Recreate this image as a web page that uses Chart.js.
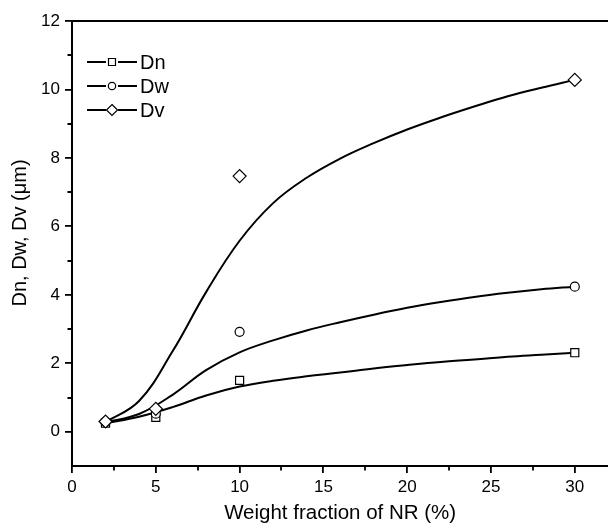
<!DOCTYPE html>
<html>
<head>
<meta charset="utf-8">
<script src="https://cdn.jsdelivr.net/npm/chart.js@4/dist/chart.umd.min.js"></script>
<style>
  html, body { margin: 0; padding: 0; background: #fff; overflow: hidden; width: 608px; height: 528px; }
  canvas { display: block; }
</style>
</head>
<body>
<canvas id="c" width="616" height="528" style="width:616px;height:528px"></canvas>
<script>
// Particle diameters versus NR weight fraction
const seriesNames = ['Dn', 'Dw', 'Dv'];
const nrFraction = [2, 5, 10, 30];
const dnMeasured = [0.25, 0.42, 1.50, 2.31];
const dwMeasured = [0.28, 0.53, 2.92, 4.24];
const dvMeasured = [0.30, 0.67, 7.47, 10.28];

// Fitted trend curves, sampled every 2 %
const fitX  = [2, 4, 6, 8, 10, 12, 14, 16, 18, 20, 22, 24, 26, 28, 30];
const dnFit = [0.25, 0.44, 0.72, 1.06, 1.32, 1.49, 1.62, 1.73, 1.85, 1.95, 2.04, 2.11, 2.19, 2.25, 2.31];
const dwFit = [0.28, 0.52, 1.08, 1.80, 2.32, 2.67, 2.96, 3.20, 3.42, 3.62, 3.79, 3.94, 4.06, 4.16, 4.24];
const dvFit = [0.28, 0.90, 2.35, 4.08, 5.58, 6.68, 7.42, 7.98, 8.43, 8.83, 9.18, 9.50, 9.80, 10.05, 10.28];

const xTicks = [0, 5, 10, 15, 20, 25, 30];
const xMinorTicks = [2.5, 7.5, 12.5, 17.5, 22.5, 27.5];
const yTicks = [0, 2, 4, 6, 8, 10, 12];
const yMinorTicks = [1, 3, 5, 7, 9, 11];

const xTitle = 'Weight fraction of NR (%)';
const yTitle = 'Dn, Dw, Dv (\u03bcm)';

const FONT = '"Liberation Sans", Arial, Helvetica, sans-serif';
const measured = [dnMeasured, dwMeasured, dvMeasured];
const fits = [dnFit, dwFit, dvFit];
const styles = ['rect', 'circle', 'rectRot'];
const radii = [5.7, 4.5, 6.5];

const datasets = [];
seriesNames.forEach((name, i) => {
  datasets.push({
    label: name + ' fit',
    data: fitX.map((x, k) => ({ x: x, y: fits[i][k] })),
    borderColor: '#000',
    borderWidth: 2,
    pointRadius: 0,
    fill: false,
    tension: 0.4,
    order: 10
  });
  datasets.push({
    label: name,
    data: nrFraction.map((x, k) => ({ x: x, y: measured[i][k] })),
    showLine: false,
    pointStyle: styles[i],
    pointRadius: radii[i],
    pointBorderWidth: 1.2,
    pointBorderColor: '#000',
    pointBackgroundColor: '#fff',
    order: 3 - i
  });
});

// Frame top edge, minor ticks, vertical title and the inset key
const decorations = {
  id: 'decorations',
  afterDraw(chart) {
    const { ctx, chartArea: a, scales } = chart;
    ctx.save();
    ctx.strokeStyle = '#000';
    ctx.lineWidth = 2;
    ctx.beginPath();
    ctx.moveTo(a.left - 1, a.top);
    ctx.lineTo(a.right + 1, a.top);
    ctx.stroke();

    ctx.lineWidth = 1.8;
    ctx.beginPath();
    xMinorTicks.forEach(v => {
      const px = Math.round(scales.x.getPixelForValue(v));
      ctx.moveTo(px, a.bottom);
      ctx.lineTo(px, a.bottom + 4.5);
    });
    yMinorTicks.forEach(v => {
      const py = Math.round(scales.y.getPixelForValue(v));
      ctx.moveTo(a.left, py);
      ctx.lineTo(a.left - 4.5, py);
    });
    ctx.stroke();

    // vertical axis title
    ctx.save();
    ctx.translate(20, 233);
    ctx.rotate(-Math.PI / 2);
    ctx.fillStyle = '#000';
    ctx.font = '20px ' + FONT;
    ctx.textAlign = 'center';
    ctx.textBaseline = 'middle';
    ctx.fillText(yTitle, 0, 0);
    ctx.restore();

    // key
    seriesNames.forEach((name, i) => {
      const y = 62 + i * 24;
      const mx = 112;
      ctx.lineWidth = 2;
      ctx.strokeStyle = '#000';
      ctx.beginPath();
      ctx.moveTo(87, y); ctx.lineTo(106, y);
      ctx.moveTo(118, y); ctx.lineTo(137, y);
      ctx.stroke();
      ctx.lineWidth = 1.2;
      ctx.fillStyle = '#fff';
      ctx.beginPath();
      if (styles[i] === 'rect') {
        ctx.rect(mx - 3.5, y - 3.5, 7, 7);
      } else if (styles[i] === 'circle') {
        ctx.arc(mx, y, 3.7, 0, Math.PI * 2);
      } else {
        ctx.moveTo(mx, y - 5.5); ctx.lineTo(mx + 5.5, y);
        ctx.lineTo(mx, y + 5.5); ctx.lineTo(mx - 5.5, y);
        ctx.closePath();
      }
      ctx.fill();
      ctx.stroke();
      ctx.fillStyle = '#000';
      ctx.font = '20px ' + FONT;
      ctx.textAlign = 'left';
      ctx.textBaseline = 'middle';
      ctx.fillText(name, 140, y + 1);
    });
    ctx.restore();
  }
};

new Chart(document.getElementById('c'), {
  type: 'line',
  data: { datasets: datasets },
  options: {
    responsive: false,
    animation: false,
    devicePixelRatio: 1,
    layout: { padding: { top: 21, right: 6, left: 0, bottom: 0 } },
    plugins: { legend: { display: false }, tooltip: { enabled: false } },
    scales: {
      x: {
        type: 'linear',
        min: 0,
        max: 32,
        afterBuildTicks: s => { s.ticks = xTicks.map(v => ({ value: v })); },
        afterFit: s => { s.height = 62; },
        grid: { drawOnChartArea: false, drawTicks: true, tickLength: 7, color: '#000', lineWidth: 1.8 },
        border: { display: true, color: '#000', width: 2 },
        ticks: { color: '#000', padding: 4, maxRotation: 0, font: { family: FONT, size: 17 } },
        title: { display: true, text: xTitle, color: '#000', font: { family: FONT, size: 20.5 }, padding: { top: 0, bottom: 2 } }
      },
      y: {
        type: 'linear',
        min: -1,
        max: 12,
        afterBuildTicks: s => { s.ticks = yTicks.map(v => ({ value: v })); },
        afterFit: s => { s.width = 72; },
        grid: { drawOnChartArea: false, drawTicks: true, tickLength: 7, color: '#000', lineWidth: 1.8 },
        border: { display: true, color: '#000', width: 2 },
        ticks: { color: '#000', padding: 5, font: { family: FONT, size: 17 } },
        title: { display: false }
      }
    }
  },
  plugins: [decorations]
});
</script>
</body>
</html>
